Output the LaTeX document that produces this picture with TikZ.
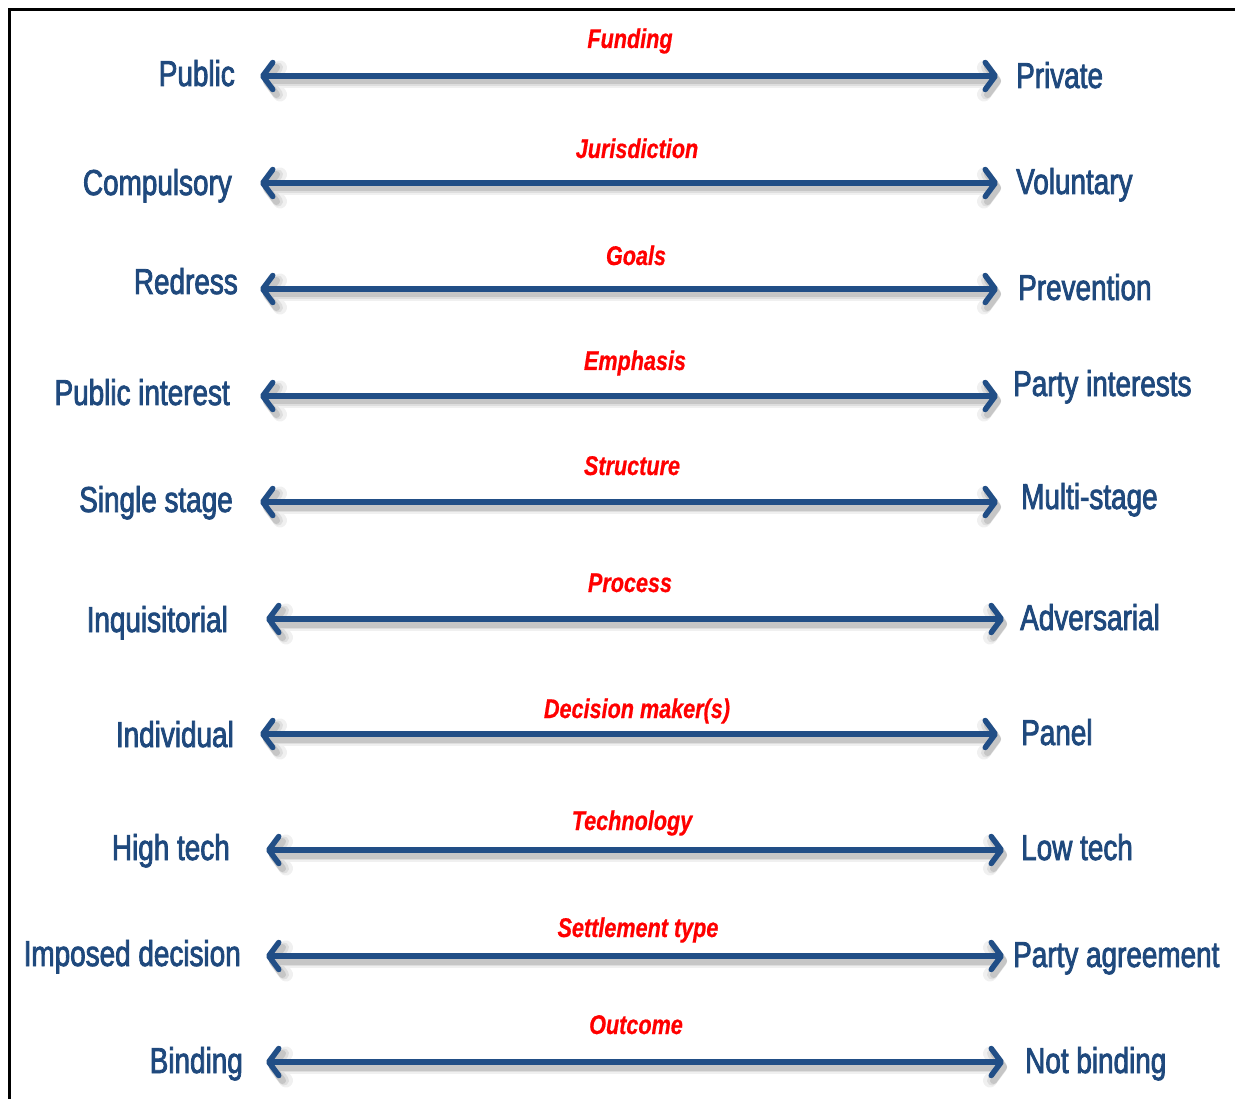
\documentclass[tikz,border=0pt]{standalone}
\usepackage{fontspec}
\usetikzlibrary{arrows.meta}
\newfontfamily\bluefont[FakeStretch=0.775,FakeBold=2.2]{Liberation Sans}
\newfontfamily\redfont[FakeStretch=0.8,FakeBold=0.6]{Liberation Sans}
\definecolor{arrowblue}{RGB}{33,78,134}
\definecolor{textblue}{RGB}{31,73,125}
\definecolor{labelred}{RGB}{255,0,0}
\tikzset{
  barbtip/.tip={Straight Barb[length=10pt,width=27pt,round]},
  endlabel/.style={text=textblue,font=\bluefont\fontsize{36}{40}\selectfont,inner sep=0pt},
  catlabel/.style={text=labelred,font=\redfont\bfseries\itshape\fontsize{27}{30}\selectfont,inner sep=0pt,anchor=base},
  scaleline/.style={draw=arrowblue,line width=5.5pt,barbtip-barbtip},
  frameline/.style={draw=black,line width=3pt}
}
\begin{document}
\begin{tikzpicture}[x=1pt,y=1pt]
\useasboundingbox (0,0) rectangle (1235,-1099);
\draw[frameline] (9,-1099) -- (9,-10) -- (1235,-10);
\foreach \n/\ay/\lx/\rx/\lt/\lbx/\lby/\rt/\rbx/\rby/\ct/\cx/\cy in {
 1/76/260/998/Public/235/86/Private/1016/88/Funding/630/48,
 2/183/260/998/Compulsory/232/195/Voluntary/1016/194/Jurisdiction/637/158,
 3/289/260/998/Redress/238/294/Prevention/1018/300/Goals/636/265,
 4/396/260/998/Public interest/230/405/Party interests/1013/396/Emphasis/635/370,
 5/502/260/998/Single stage/233/512/Multi-stage/1021/509/Structure/632/475,
 6/619/266/1004/Inquisitorial/228/632/Adversarial/1020/630/Process/630/592,
 7/734/260/998/Individual/234/747/Panel/1021/745/Decision maker(s)/637/718,
 8/850/266/1004/High tech/230/860/Low tech/1021/860/Technology/632/830,
 9/956/266/1004/Imposed decision/241/966/Party agreement/1013/967/Settlement type/638/937,
 10/1062/266/1004/Binding/243/1073/Not binding/1025/1073/Outcome/636/1034}{
  \coordinate (L\n) at (\lx,-\ay);
  \coordinate (R\n) at (\rx,-\ay);
  \node[endlabel,anchor=base east] (left\n) at (\lbx,-\lby) {\lt};
  \node[endlabel,anchor=base west] (right\n) at (\rbx,-\rby) {\rt};
  \node[catlabel] (cat\n) at (\cx,-\cy) {\ct};
  \foreach \w/\c in {14/gray!12,10/gray!26,7/gray!45}{
    \draw[draw=\c,line width=\w pt,barbtip-barbtip] ([shift={(3,-5)}]L\n) -- ([shift={(3,-5)}]R\n);
  }
  \draw[scaleline] (L\n) -- (R\n);
}
\end{tikzpicture}
\end{document}
